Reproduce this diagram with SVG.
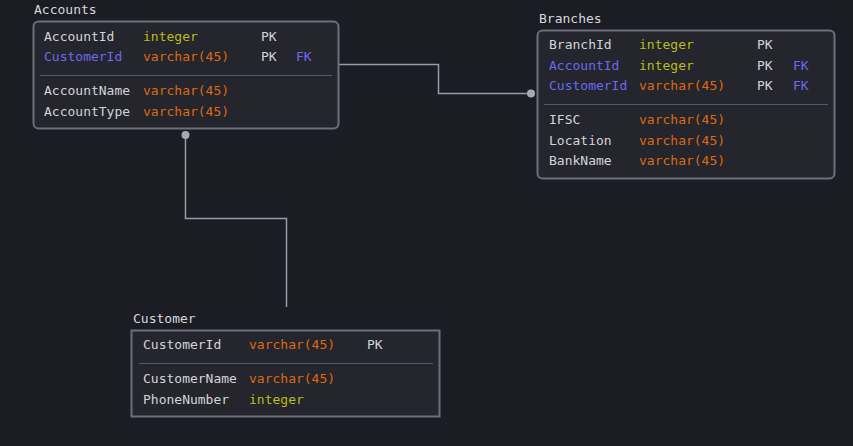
<svg xmlns="http://www.w3.org/2000/svg" width="853" height="446" viewBox="0 0 853 446">
<style>
text{font-family:"DejaVu Sans Mono","Liberation Mono",monospace;font-size:13px;fill:#d4d4d8}
.t{fill:#d8d8dc}
.int{fill:#bcbc16}
.vc{fill:#dd6a10}
.fk{fill:#6a6af0}
.box{fill:#25252d;stroke:#6e6e7a;stroke-width:2}
.sep{stroke:#5a5a66;stroke-width:1}
.c{fill:none;stroke:#9a9aa4;stroke-width:1.5}
.dot{fill:#a8a8b2}
</style>
<rect width="853" height="446" fill="#1c1c24"/>
<g id="connectors">
<path class="c" d="M339 64.5H438.5V93.5H531"/>
<circle class="dot" cx="531" cy="93.5" r="4"/>
<path class="c" d="M185.5 135V218.5H286.5V307"/>
<circle class="dot" cx="185.5" cy="135" r="4"/>
</g>
<g id="Accounts">
<text class="t" x="34" y="14">Accounts</text>
<rect class="box" x="33.5" y="21.5" width="305" height="107" rx="5"/>
<text x="44" y="41">AccountId</text><text class="int" x="143" y="41">integer</text><text x="261" y="41">PK</text>
<text class="fk" x="44" y="61">CustomerId</text><text class="vc" x="143" y="61">varchar(45)</text><text x="261" y="61">PK</text><text class="fk" x="296" y="61">FK</text>
<line class="sep" x1="40" y1="75.5" x2="332" y2="75.5"/>
<text x="44" y="95">AccountName</text><text class="vc" x="143" y="95">varchar(45)</text>
<text x="44" y="116">AccountType</text><text class="vc" x="143" y="116">varchar(45)</text>
</g>
<g id="Branches">
<text class="t" x="539" y="23">Branches</text>
<rect class="box" x="537.5" y="30.5" width="297" height="148" rx="5"/>
<text x="549" y="49">BranchId</text><text class="int" x="639" y="49">integer</text><text x="757" y="49">PK</text>
<text class="fk" x="549" y="70">AccountId</text><text class="int" x="639" y="70">integer</text><text x="757" y="70">PK</text><text class="fk" x="793" y="70">FK</text>
<text class="fk" x="549" y="90">CustomerId</text><text class="vc" x="639" y="90">varchar(45)</text><text x="757" y="90">PK</text><text class="fk" x="793" y="90">FK</text>
<line class="sep" x1="544" y1="104.5" x2="828" y2="104.5"/>
<text x="549" y="124">IFSC</text><text class="vc" x="639" y="124">varchar(45)</text>
<text x="549" y="145">Location</text><text class="vc" x="639" y="145">varchar(45)</text>
<text x="549" y="165">BankName</text><text class="vc" x="639" y="165">varchar(45)</text>
</g>
<g id="Customer">
<text class="t" x="133" y="323">Customer</text>
<rect class="box" x="131.5" y="330.5" width="308" height="86"/>
<text x="143" y="349">CustomerId</text><text class="vc" x="249" y="349">varchar(45)</text><text x="367" y="349">PK</text>
<line class="sep" x1="139" y1="363.5" x2="433" y2="363.5"/>
<text x="143" y="383">CustomerName</text><text class="vc" x="249" y="383">varchar(45)</text>
<text x="143" y="404">PhoneNumber</text><text class="int" x="249" y="404">integer</text>
</g>
</svg>
